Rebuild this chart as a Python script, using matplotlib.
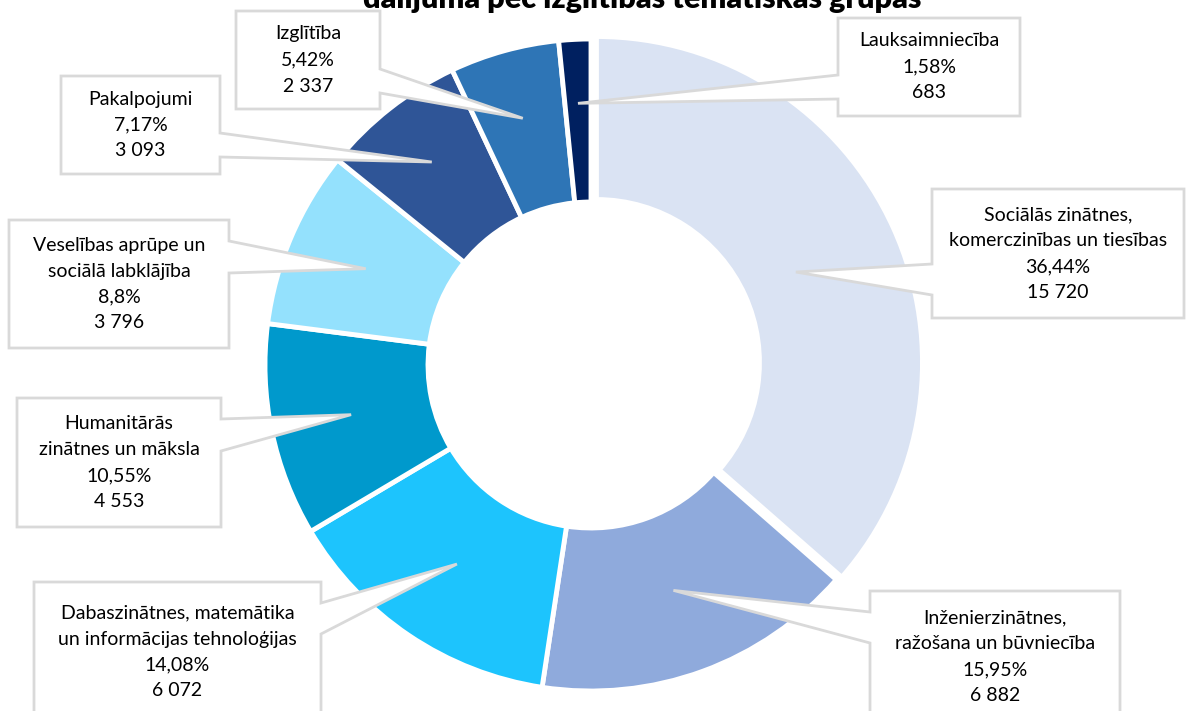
import numpy as np
import matplotlib.pyplot as plt
from matplotlib.patches import Polygon

# data
groups = ["Sociālās zinātnes,\nkomerczinības un tiesības",
          "Inženierzinātnes,\nražošana un būvniecība",
          "Dabaszinātnes, matemātika\nun informācijas tehnoloģijas",
          "Humanitārās\nzinātnes un māksla",
          "Veselības aprūpe un\nsociālā labklājība",
          "Pakalpojumi",
          "Izglītība",
          "Lauksaimniecība"]
counts = [15720, 6882, 6072, 4553, 3796, 3093, 2337, 683]
pct_labels = ["36,44%", "15,95%", "14,08%", "10,55%", "8,8%", "7,17%", "5,42%", "1,58%"]
count_labels = ["15 720", "6 882", "6 072", "4 553", "3 796", "3 093", "2 337", "683"]
colors = ["#DAE3F3", "#8FAADC", "#1DC4FD", "#0099CC", "#94E1FD", "#2F5597", "#2E75B6", "#002060"]
title = "dalījuma pēc izglītības tematiskās grupās"

# layout of callout boxes in image pixels: x0, y0, x1, y1, side of wedge, wedge y from, wedge y to
boxes = [(932, 189, 1184, 318, "L", 264, 295),
         (870, 591, 1120, 730, "L", 612, 643),
         (34, 582, 321, 730, "R", 603, 634),
         (17, 398, 221, 527, "R", 419, 451),
         (9, 220, 229, 348, "R", 241, 273),
         (61, 76, 220, 174, "R", 133, 157),
         (236, 11, 380, 109, "R", 69, 93),
         (838, 18, 1020, 116, "L", 75, 99)]
tip_r = [225, 240, 240, 245, 245, 258, 256, 262]

W, H = 1186, 711
cx, cy = 591, 365
R_out, R_in = 326, 163

plt.rcParams['font.family'] = ['Lato', 'DejaVu Sans']
fig = plt.figure(figsize=(W / 100, H / 100), dpi=100)
ax = fig.add_axes([0, 0, 1, 1])

explode = [6, 0, 0, 0, 0, 0, 0, 0]
ax.pie(counts, colors=colors, startangle=90, counterclock=False,
       center=(cx, H - cy), radius=R_out, explode=explode,
       wedgeprops=dict(width=R_out - R_in, edgecolor="white", linewidth=3.5))

ax.set_xlim(0, W)
ax.set_ylim(0, H)
ax.set_aspect("equal")
ax.axis("off")

# mid angles of slices (clockwise from top)
frac = np.array(counts) / sum(counts)
mids = 90 - 360 * (np.cumsum(frac) - frac / 2)

for i, (x0, y0, x1, y1, side, wa, wb) in enumerate(boxes):
    a = np.radians(mids[i])
    tx = cx + tip_r[i] * np.cos(a)
    ty = (H - cy) + tip_r[i] * np.sin(a)
    Y0, Y1, WA, WB = H - y0, H - y1, H - wa, H - wb
    if side == "L":
        pts = [(x0, Y0), (x1, Y0), (x1, Y1), (x0, Y1), (x0, WB), (tx, ty), (x0, WA)]
    else:
        pts = [(x0, Y0), (x1, Y0), (x1, WA), (tx, ty), (x1, WB), (x1, Y1), (x0, Y1)]
    ax.add_patch(Polygon(pts, closed=True, facecolor="white", edgecolor="#D9D9D9",
                         linewidth=2, zorder=5, clip_on=False))
    lines = groups[i].split("\n") + [pct_labels[i], count_labels[i]]
    n = len(lines)
    top = y0 + ((min(y1, 722) - y0) - 26 * n) / 2 + 13
    for k, s in enumerate(lines):
        ax.text((x0 + x1) / 2, H - (top + 26 * k), s, ha="center", va="center",
                fontsize=14, color="#000000", zorder=6)

ax.text(642, H + 1, title, ha="center", va="center", fontsize=22,
        fontweight="heavy", color="#000000")

fig.savefig("out.png", dpi=100)
